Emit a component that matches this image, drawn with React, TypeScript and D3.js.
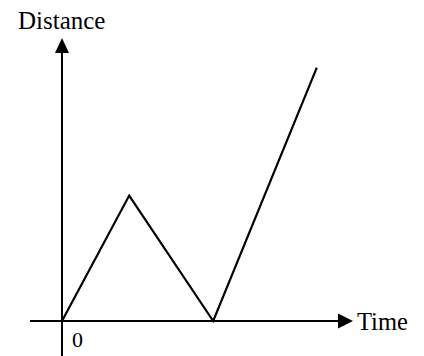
import React from "react";
import * as d3 from "d3";

const times = [0, 2.4, 5.4, 9.1];
const distances = [0, 4.48, 0, 9.05];
const xLabel = "Time";
const yLabel = "Distance";
const originLabel = "0";

const W = 424;
const H = 356;
const FONT = "Liberation Serif";

export default function App() {
  const x = d3.scaleLinear().domain([0, 10]).range([62, 342]);
  const y = d3.scaleLinear().domain([0, 10]).range([321, 41]);

  const line = d3
    .line<number>()
    .x((_, i) => x(times[i]))
    .y((d) => y(d))
    .curve(d3.curveLinear);

  const xStart = 30;
  const xTip = 353;
  const yTip = 38;
  const yBottom = H;

  const ox = x(0);
  const oy = y(0);

  return (
    <svg
      width={W}
      height={H}
      style={{ position: "absolute", left: 0, top: 0, background: "#fff" }}
    >
      <line x1={xStart} y1={oy} x2={xTip - 8} y2={oy} stroke="#000" strokeWidth={2} />
      <line x1={ox} y1={yBottom} x2={ox} y2={yTip + 8} stroke="#000" strokeWidth={2} />
      <path
        d={`M${xTip},${oy} L${xTip - 15},${oy - 7.5} L${xTip - 15},${oy + 7.5} Z`}
        fill="#000"
      />
      <path
        d={`M${ox},${yTip} L${ox - 7},${yTip + 15} L${ox + 7},${yTip + 15} Z`}
        fill="#000"
      />
      <path
        d={line(distances) || ""}
        fill="none"
        stroke="#000"
        strokeWidth={2.2}
        strokeLinejoin="miter"
      />
      <text x={18} y={29} style={{ fontFamily: FONT, fontSize: 25 }} fill="#000">
        {yLabel}
      </text>
      <text x={357} y={330} style={{ fontFamily: FONT, fontSize: 24.5 }} fill="#000">
        {xLabel}
      </text>
      <text x={72} y={347} style={{ fontFamily: FONT, fontSize: 22 }} fill="#000">
        {originLabel}
      </text>
    </svg>
  );
}
